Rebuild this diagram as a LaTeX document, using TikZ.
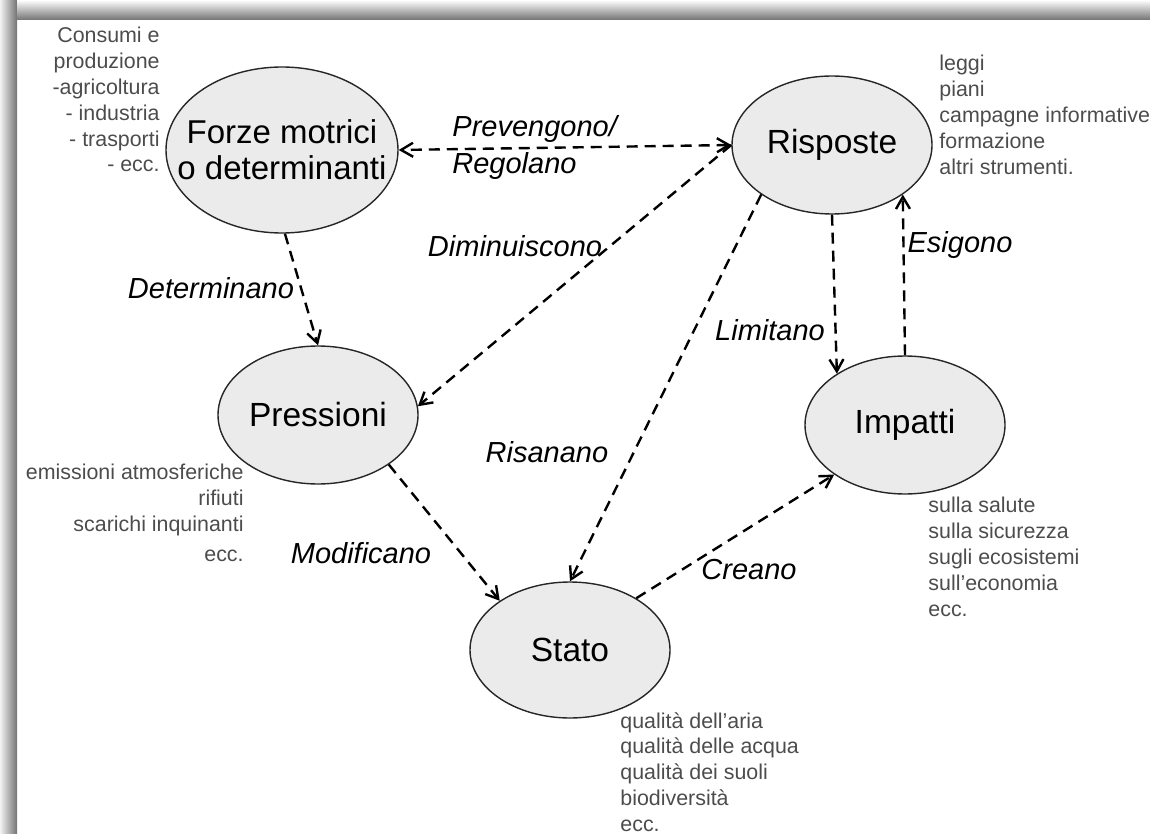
\documentclass[tikz,border=0pt]{standalone}
\usepackage{fontspec}
\setmainfont{Liberation Sans}
\usepackage{tikz}
\usetikzlibrary{shapes.geometric, arrows.meta}

\begin{document}
\begin{tikzpicture}[x=0.5pt, y=-0.5pt,
    fase/.style={ellipse, draw=black!85, line width=0.7pt, fill=black!8, inner sep=0pt,
        minimum width=100pt, minimum height=69pt, align=center,
        font=\fontsize{16.75}{15}\selectfont},
    nota/.style={inner sep=0pt, text=black!70, font=\fontsize{10.7}{12.9}\selectfont},
    verbo/.style={inner sep=0pt, font=\fontsize{14.5}{18.5}\selectfont\itshape},
    freccia/.style={dash pattern=on 5.5pt off 3.5pt, line width=1.2pt,
        -{Straight Barb[length=6pt, width=7pt]}}]

\useasboundingbox (0,0) rectangle (1150,834);
\shade[left color=black!5, right color=black!55] (0,0) rectangle (17,834);
\shade[top color=white, bottom color=black!55] (17,0) rectangle (1150,20);

\node[fase, minimum width=116pt, minimum height=83pt, inner xsep=-13pt,
    font=\fontsize{16.5}{18.2}\selectfont] (forze) at (282,150) {Forze motrici\\o determinanti};
\node[fase] (risposte) at (832,145) {Risposte};
\node[fase] (pressioni) at (318,415) {Pressioni};
\node[fase] (impatti) at (905,425) {Impatti};
\node[fase, minimum height=68pt] (stato) at (570,650) {Stato};

\draw[freccia, {Straight Barb[length=6pt, width=7pt]}-{Straight Barb[length=6pt, width=7pt]}] (risposte.west) -- (forze.east);
\draw[freccia] (risposte.west) -- (pressioni.5);
\draw[freccia] (forze.-88) -- (pressioni.north);
\draw[freccia] (risposte.215) -- (stato.north);
\draw[freccia] (risposte.south) -- (impatti.143);
\draw[freccia] (impatti.north) -- (risposte.-35);
\draw[freccia] (pressioni.-35) -- (stato.145);
\draw[freccia] (stato.38) -- (impatti.215);

\node[verbo, anchor=north west, align=left] (prevengono) at (452,115) {Prevengono/\\Regolano};
\node[verbo] (diminuiscono) at (515,246) {Diminuiscono};
\node[verbo] (determinano) at (211,288) {Determinano};
\node[verbo] (risanano) at (547,452) {Risanano};
\node[verbo] (limitano) at (770,330) {Limitano};
\node[verbo] (esigono) at (960,245) {Esigono};
\node[verbo] (modificano) at (361,553) {Modificano};
\node[verbo] (creano) at (749,570) {Creano};

\node[nota, anchor=north east, align=right] (notaforze) at (160,27) {Consumi e\\produzione\\-agricoltura\\- industria\\- trasporti\\- ecc.};
\node[nota, anchor=north west, align=left] (notarisposte) at (939,55) {leggi\\piani\\campagne informative\\formazione\\altri strumenti.};
\node[nota, anchor=north east, align=right] (notapressioni) at (244,464) {emissioni atmosferiche\\rifiuti\\scarichi inquinanti\\[2pt]ecc.};
\node[nota, anchor=north west, align=left] (notaimpatti) at (928,497) {sulla salute\\sulla sicurezza\\sugli ecosistemi\\sull'economia\\ecc.};
\node[nota, anchor=north west, align=left] (notastato) at (620,712) {qualità dell'aria\\qualità delle acqua\\qualità dei suoli\\biodiversità\\ecc.};
\end{tikzpicture}
\end{document}
